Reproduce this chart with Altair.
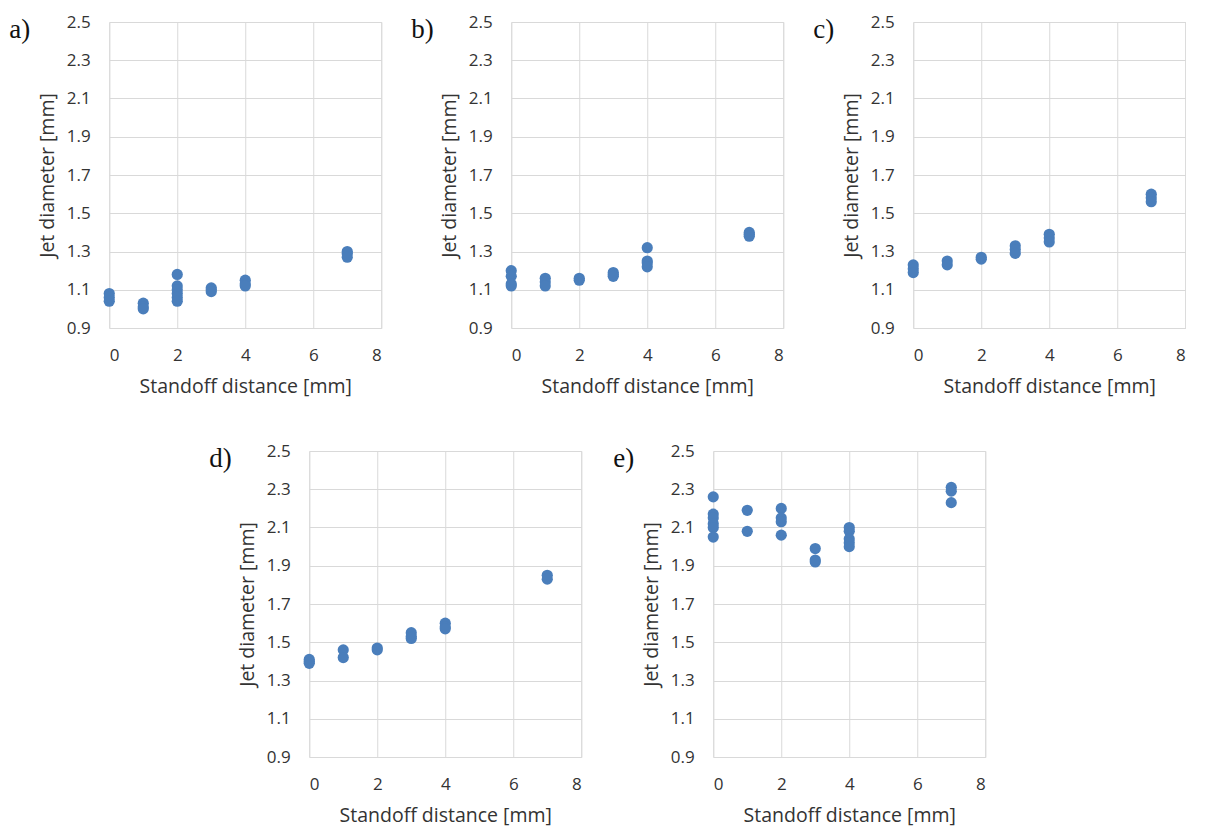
import altair as alt
import pandas as pd

# ---- data ----
a_x = [0, 0, 0, 1, 1, 1, 2, 2, 2, 2, 2, 2, 3, 3, 3, 4, 4, 4, 7, 7, 7]
a_y = [1.08, 1.06, 1.04, 1.03, 1.01, 1.00, 1.18, 1.12, 1.10, 1.08, 1.06, 1.04,
       1.11, 1.10, 1.09, 1.15, 1.13, 1.12, 1.30, 1.29, 1.27]

b_x = [0, 0, 0, 0, 1, 1, 1, 2, 2, 3, 3, 3, 4, 4, 4, 4, 7, 7, 7]
b_y = [1.20, 1.17, 1.13, 1.12, 1.16, 1.14, 1.12, 1.16, 1.15, 1.19, 1.18, 1.17,
       1.32, 1.25, 1.24, 1.22, 1.40, 1.39, 1.38]

c_x = [0, 0, 0, 1, 1, 2, 2, 3, 3, 3, 4, 4, 4, 7, 7, 7]
c_y = [1.23, 1.21, 1.19, 1.25, 1.23, 1.27, 1.26, 1.33, 1.31, 1.29,
       1.39, 1.37, 1.35, 1.60, 1.58, 1.56]

d_x = [0, 0, 0, 1, 1, 2, 2, 3, 3, 3, 4, 4, 4, 7, 7]
d_y = [1.41, 1.40, 1.39, 1.46, 1.42, 1.47, 1.46, 1.55, 1.53, 1.52,
       1.60, 1.58, 1.57, 1.85, 1.83]

e_x = [0, 0, 0, 0, 0, 0, 1, 1, 2, 2, 2, 2, 3, 3, 3, 4, 4, 4, 4, 4, 7, 7, 7]
e_y = [2.26, 2.17, 2.15, 2.12, 2.10, 2.05, 2.19, 2.08, 2.20, 2.15, 2.13, 2.06,
       1.99, 1.93, 1.92, 2.10, 2.08, 2.04, 2.02, 2.00, 2.31, 2.29, 2.23]

x_ticks = [0, 2, 4, 6, 8]
y_ticks = [0.9, 1.1, 1.3, 1.5, 1.7, 1.9, 2.1, 2.3, 2.5]
x_title = "Standoff distance [mm]"
y_title = "Jet diameter [mm]"

POINT = "#4a7ebb"
GRID = "#d9d9d9"
TEXT = "#333333"
FONT = "Open Sans"
W, H = 272, 306


def panel(label, xs, ys):
    df = pd.DataFrame({"x": xs, "y": ys})
    pts = alt.Chart(df).mark_circle(size=125, color=POINT, opacity=1).encode(
        x=alt.X("x:Q", title=x_title,
                scale=alt.Scale(domain=[0, 8], nice=False, zero=False),
                axis=alt.Axis(values=x_ticks, format="d", grid=True, gridColor=GRID,
                              domain=False, ticks=False, labelPadding=19,
                              titlePadding=14, labelFontSize=17, titleFontSize=19.5,
                              labelFont=FONT, titleFont=FONT, labelColor=TEXT,
                              titleColor=TEXT, titleFontWeight="normal")),
        y=alt.Y("y:Q", title=y_title,
                scale=alt.Scale(domain=[0.9, 2.5], nice=False, zero=False),
                axis=alt.Axis(values=y_ticks, format=".1f", grid=True, gridColor=GRID,
                              domain=False, ticks=False, labelPadding=19,
                              titlePadding=9, labelFontSize=17, titleFontSize=19.5,
                              labelFont=FONT, titleFont=FONT, labelColor=TEXT,
                              titleColor=TEXT, titleFontWeight="normal")),
    )
    lab = alt.Chart(pd.DataFrame({"t": [label]})).mark_text(
        font="Liberation Serif", fontSize=27, align="left", baseline="middle",
        color="#111").encode(text="t:N", x=alt.value(-100), y=alt.value(8))
    return alt.layer(pts, lab).properties(width=W, height=H)


top = alt.hconcat(panel("a)", a_x, a_y), panel("b)", b_x, b_y),
                  panel("c)", c_x, c_y), spacing=28)
bottom = alt.hconcat(panel("d)", d_x, d_y), panel("e)", e_x, e_y), spacing=30)

chart = alt.vconcat(top, bottom, spacing=45, center=True).configure_view(
    stroke=None).configure(background="white",
                           padding={"top": 4, "left": 0, "right": 0, "bottom": 6})

chart.save("out.html", embed_options={"renderer": "svg", "actions": False})
